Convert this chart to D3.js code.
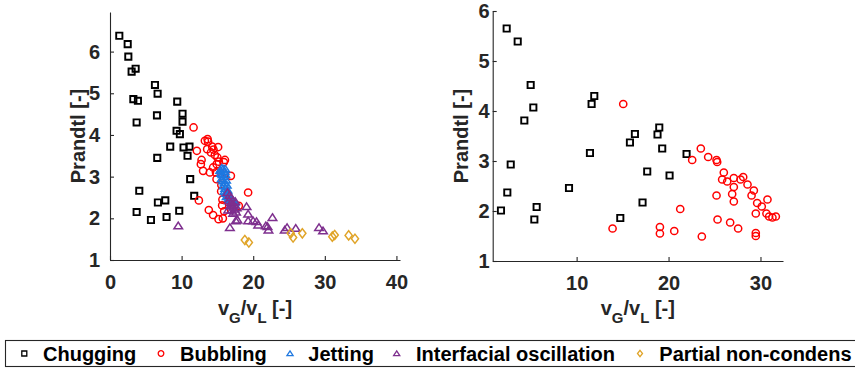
<!DOCTYPE html>
<html>
<head>
<meta charset="utf-8">
<script src="https://cdn.jsdelivr.net/npm/d3@7"></script>
<style>
  html, body { margin: 0; padding: 0; background: #fff; }
  svg { display: block; font-family: "Liberation Sans", Arial, sans-serif; }
</style>
</head>
<body>
<svg id="chart" width="855" height="368"></svg>
<script>
// ---- Regime map data: [vG/vL, Prandtl] ----
const chuggingA = [[1.3,6.38],[2.47,6.18],[2.56,5.88],[3.02,5.52],[3.58,5.59],[3.26,4.86],[3.9,4.82],[3.72,4.30],
  [6.28,5.20],[6.65,4.99],[6.56,4.47],[9.39,4.80],[10.13,4.51],[10.13,4.32],[9.30,4.10],[9.76,4.02],
  [8.41,3.72],[10.27,3.70],[11.1,3.72],[10.83,3.50],[6.6,3.45],[11.2,2.94],[11.76,2.54],[4.09,2.66],
  [3.72,2.15],[6.69,2.38],[7.72,2.43],[5.72,1.96],[7.9,2.03],[9.67,2.18]];
const bubblingA = [[11.67,4.18],[12.13,3.62],[13.25,3.86],[13.63,3.90],[13.7,3.84],[13.57,3.66],[14.27,3.72],
  [14.45,3.65],[15.1,3.71],[14.64,3.52],[15.0,3.46],[15.2,3.36],[12.79,3.40],[12.69,3.30],[13.0,3.14],
  [13.95,3.10],[14.4,3.22],[14.88,2.94],[14.8,3.10],[15.48,3.09],[15.9,3.35],[16.05,3.40],[16.88,3.02],
  [15.52,2.65],[15.55,2.80],[12.41,2.43],[13.8,2.20],[14.4,2.08],[15.16,1.98],[15.76,2.0],[15.66,2.31],
  [15.94,2.17],[19.29,2.62],[17.99,2.30],[14.1,3.58],[14.9,3.30],[15.7,2.45]];
const jettingA = [[15.4,3.15],[15.6,3.2],[15.8,3.18],[16.0,3.12],[15.7,3.05],[15.9,3.0],[16.1,3.05],[15.6,2.95],
  [15.8,2.9],[16.0,2.85],[16.2,2.92],[15.9,2.78],[16.1,2.72],[16.3,2.8],[16.0,2.65],[16.2,2.6],[16.4,2.68],
  [16.3,2.52],[16.5,2.58],[16.6,2.48],[16.8,2.45],[17.0,2.42],[17.2,2.4],[17.4,2.38],[16.7,2.55],[15.5,3.08],[16.1,3.18]];
const oscillationA = [[9.53,1.82],[16.74,1.78],[17.57,1.94],[19.07,2.28],[19.29,2.10],[19.29,1.94],[19.99,1.94],
  [20.46,1.92],[20.7,1.84],[21.76,1.82],[22.13,1.72],[22.69,2.02],[22.0,1.80],[24.4,1.72],[24.73,1.78],
  [25.94,1.76],[29.19,1.78],[29.75,1.70],[16.4,2.62],[16.7,2.55],[16.9,2.5],[16.6,2.42],[16.9,2.38],
  [17.1,2.3],[17.3,2.32],[17.0,2.2],[17.4,2.22],[17.6,2.15],[17.2,2.12],[16.8,2.3],[17.5,2.4],[17.7,2.25],
  [16.5,2.2],[17.8,1.96]];
const nonCondensA = [[18.83,1.48],[19.39,1.42],[25.24,1.64],[25.57,1.54],[26.86,1.64],[31.05,1.56],[31.38,1.60],
  [33.33,1.59],[34.21,1.51]];

const chuggingB = [[2.39,5.65],[3.59,5.39],[5.0,4.52],[5.29,4.07],[4.31,3.81],[2.83,2.93],[2.46,2.37],[1.77,2.01],
  [5.65,2.08],[5.4,1.83],[9.17,2.46],[11.45,3.16],[11.63,4.14],[11.92,4.30],[14.75,1.86],[15.80,3.37],
  [16.34,3.54],[17.17,2.17],[17.68,2.79],[18.80,3.53],[18.99,3.67],[19.31,3.25],[20.11,2.71],[21.96,3.14]];
const bubblingB = [[15.07,4.14],[13.91,1.65],[19.06,1.68],[19.06,1.55],[20.62,1.60],[21.27,2.04],[22.57,3.02],
  [23.51,3.25],[23.62,1.49],[24.31,3.08],[25.22,3.02],[25.29,2.98],[25.22,2.31],[25.33,1.83],[26.01,2.77],
  [25.83,2.63],[26.38,2.59],[27.1,2.66],[27.1,2.48],[26.92,2.34],[27.1,2.19],[26.70,1.77],[27.57,1.65],
  [27.83,2.63],[28.12,2.68],[28.59,2.53],[29.03,2.31],[29.28,2.41],[29.64,2.16],[29.49,1.95],[29.49,1.56],
  [29.49,1.50],[30.76,2.23],[30.14,2.09],[30.65,1.95],[30.94,1.89],[31.3,1.87],[31.67,1.89]];

const xTicksA = [0, 10, 20, 30, 40];
const xTicksB = [10, 20, 30];
const yTicks = [1, 2, 3, 4, 5, 6];

const regimeNames = ["Chugging", "Bubbling", "Jetting", "Interfacial oscillation", "Partial non-condens"];
const regimeColors = ["#000000", "#ff0000", "#1f78e0", "#7e2f8e", "#e0a428"];
const regimeShapes = ["square", "circle", "triangle", "triangle", "diamond"];

// ---- marker paths (sizes in px) ----
function markerPath(shape, s) {
  const h = s / 2;
  switch (shape) {
    case "square": return `M${-h},${-h}H${h}V${h}H${-h}Z`;
    case "circle": return `M${h},0A${h},${h} 0 1,1 ${-h},0A${h},${h} 0 1,1 ${h},0Z`;
    case "triangle": return `M0,${-h * 0.95}L${h * 1.1},${h * 0.75}L${-h * 1.1},${h * 0.75}Z`;
    case "diamond": return `M0,${-h * 1.15}L${h * 0.9},0L0,${h * 1.15}L${-h * 0.9},0Z`;
  }
}
const markerSize = { square: 6.2, circle: 7.2, triangle: 7.8, diamond: 8 };
const markerStroke = { square: 1.9, circle: 1.5, triangle: 1.5, diamond: 1.5 };

const svg = d3.select("#chart");
const axisColor = "#262626";

function panel(xDomain, xRange, yDomain, yRange, xTicks, yPad, series, yLabelX) {
  const x = d3.scaleLinear().domain(xDomain).range(xRange);
  const y = d3.scaleLinear().domain(yDomain).range(yRange);
  const g = svg.append("g");

  // data markers, drawn in regime order
  series.forEach(([pts, idx]) => {
    const shape = regimeShapes[idx];
    g.append("g").selectAll("path").data(pts).join("path")
      .attr("transform", d => `translate(${x(d[0])},${y(d[1])})`)
      .attr("d", markerPath(shape, markerSize[shape]))
      .attr("fill", "none")
      .attr("stroke", regimeColors[idx])
      .attr("stroke-width", markerStroke[shape]);
  });

  const xAxis = d3.axisBottom(x).tickValues(xTicks).tickFormat(d3.format("d"))
    .tickSizeInner(-4).tickSizeOuter(0).tickPadding(15);
  const yAxis = d3.axisLeft(y).tickValues(yTicks).tickFormat(d3.format("d"))
    .tickSizeInner(-4).tickSizeOuter(0).tickPadding(yPad);

  const gx = g.append("g").attr("transform", `translate(0,${yRange[0]})`).call(xAxis);
  const gy = g.append("g").attr("transform", `translate(${xRange[0]},0)`).call(yAxis);
  [gx, gy].forEach(a => {
    a.select(".domain").attr("stroke", axisColor).attr("stroke-width", 1.1);
    a.selectAll(".tick line").attr("stroke", axisColor).attr("stroke-width", 1.1);
    a.selectAll(".tick text").attr("fill", axisColor)
      .style("font-size", "20px").style("font-weight", "bold")
      .style("font-family", "'Liberation Sans', Arial, sans-serif");
  });

  // axis titles
  const yMid = (yRange[0] + yRange[1]) / 2;
  g.append("text")
    .attr("transform", `translate(${yLabelX},${yMid}) rotate(-90)`)
    .attr("text-anchor", "middle")
    .attr("fill", axisColor).style("font-size", "20px").style("font-weight", "bold")
    .text("Prandtl [-]");

  const xl = g.append("text")
    .attr("x", (xRange[0] + xRange[1]) / 2).attr("y", 315)
    .attr("text-anchor", "middle")
    .attr("fill", axisColor).style("font-size", "20px").style("font-weight", "bold");
  xl.append("tspan").text("v");
  xl.append("tspan").attr("dy", 8).style("font-size", "15px").text("G");
  xl.append("tspan").attr("dy", -8).text("/v");
  xl.append("tspan").attr("dy", 8).style("font-size", "15px").text("L");
  xl.append("tspan").attr("dy", -8).text(" [-]");
}

panel([0, 40.5], [110, 400], [1, 6.95], [260, 12], xTicksA, 10,
  [[chuggingA, 0], [bubblingA, 1], [jettingA, 2], [oscillationA, 3], [nonCondensA, 4]], 84.5);
panel([0.87, 32.45], [492.7, 783], [1, 6], [261, 11], xTicksB, 3,
  [[chuggingB, 0], [bubblingB, 1]], 468);

// ---- legend ----
const legend = svg.append("g");
legend.append("rect").attr("x", 5.5).attr("y", 340.5).attr("width", 900).attr("height", 26)
  .attr("fill", "#fff").attr("stroke", axisColor).attr("stroke-width", 1.1);
const legendMarkX = [24.3, 161, 290, 396.7, 640];
const legendTextX = [43, 180, 308.3, 416, 659.3];
regimeNames.forEach((name, i) => {
  const shape = regimeShapes[i];
  legend.append("path")
    .attr("transform", `translate(${legendMarkX[i]},353.5)`)
    .attr("d", markerPath(shape, shape === "square" ? 5 : 5.6))
    .attr("fill", "none").attr("stroke", regimeColors[i]).attr("stroke-width", 1.3);
  legend.append("text").attr("x", legendTextX[i]).attr("y", 361)
    .attr("fill", "#000").style("font-size", "20px").style("font-weight", "bold")
    .text(name);
});
</script>
</body>
</html>
